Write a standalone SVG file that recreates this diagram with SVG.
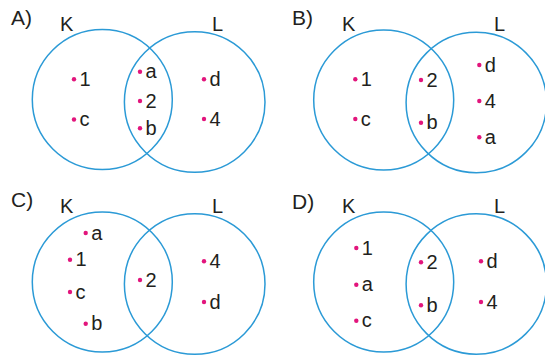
<svg xmlns="http://www.w3.org/2000/svg" width="545" height="356" viewBox="0 0 545 356">
<style>
.set{fill:none;stroke:#2b9ad6;stroke-width:1.5}
.dot{fill:#e2157c}
.t{font-family:"Liberation Sans",Arial,sans-serif;font-size:20px;fill:#231f20}
.lbl{font-family:"Liberation Sans",Arial,sans-serif;font-size:20px;fill:#231f20}
.opt{font-family:"Liberation Sans",Arial,sans-serif;font-size:21px;fill:#231f20}
</style>
<rect width="545" height="356" fill="#fff"/>
<g id="connectors"/>
<!-- Panel A -->
<g id="panelA">
  <text class="opt" x="11" y="25">A)</text>
  <g id="A-K"><circle class="set" cx="102.3" cy="99.5" r="70"/><text class="lbl" x="60" y="31">K</text></g>
  <g id="A-L"><circle class="set" cx="194.7" cy="102" r="70.3"/><text class="lbl" x="212" y="31">L</text></g>
  <g id="A-items">
    <circle class="dot" cx="74" cy="79.3" r="2.2"/><text class="t" x="79.5" y="86">1</text>
    <circle class="dot" cx="74" cy="119.5" r="2.2"/><text class="t" x="79.5" y="126">c</text>
    <circle class="dot" cx="140" cy="71.7" r="2.2"/><text class="t" x="145.5" y="78">a</text>
    <circle class="dot" cx="140" cy="101" r="2.2"/><text class="t" x="145.5" y="107.5">2</text>
    <circle class="dot" cx="140" cy="128.3" r="2.2"/><text class="t" x="145.5" y="135">b</text>
    <circle class="dot" cx="204" cy="79.3" r="2.2"/><text class="t" x="209.5" y="86">d</text>
    <circle class="dot" cx="204" cy="119" r="2.2"/><text class="t" x="209.5" y="125.5">4</text>
  </g>
</g>
<!-- Panel B -->
<g id="panelB">
  <text class="opt" x="292" y="25">B)</text>
  <g id="B-K"><circle class="set" cx="383.7" cy="100" r="70"/><text class="lbl" x="342" y="31">K</text></g>
  <g id="B-L"><circle class="set" cx="476.3" cy="102.5" r="70.2"/><text class="lbl" x="494" y="31">L</text></g>
  <g id="B-items">
    <circle class="dot" cx="355.3" cy="79.3" r="2.2"/><text class="t" x="360.8" y="86">1</text>
    <circle class="dot" cx="355.3" cy="119" r="2.2"/><text class="t" x="360.8" y="125.5">c</text>
    <circle class="dot" cx="421" cy="80" r="2.2"/><text class="t" x="426.5" y="86.5">2</text>
    <circle class="dot" cx="421" cy="122.7" r="2.2"/><text class="t" x="426.5" y="129.2">b</text>
    <circle class="dot" cx="479.3" cy="65" r="2.2"/><text class="t" x="484.8" y="71.5">d</text>
    <circle class="dot" cx="479.3" cy="101" r="2.2"/><text class="t" x="484.8" y="107.5">4</text>
    <circle class="dot" cx="479.3" cy="137.3" r="2.2"/><text class="t" x="484.8" y="143.8">a</text>
  </g>
</g>
<!-- Panel C -->
<g id="panelC">
  <text class="opt" x="11" y="207">C)</text>
  <g id="C-K"><circle class="set" cx="102.3" cy="282" r="70"/><text class="lbl" x="60" y="213">K</text></g>
  <g id="C-L"><circle class="set" cx="194.7" cy="284" r="70.3"/><text class="lbl" x="212" y="213">L</text></g>
  <g id="C-items">
    <circle class="dot" cx="85.7" cy="233" r="2.2"/><text class="t" x="91.2" y="239.5">a</text>
    <circle class="dot" cx="70" cy="259.7" r="2.2"/><text class="t" x="75.5" y="266.2">1</text>
    <circle class="dot" cx="70" cy="292" r="2.2"/><text class="t" x="75.5" y="298.5">c</text>
    <circle class="dot" cx="85.7" cy="323.7" r="2.2"/><text class="t" x="91.2" y="330.2">b</text>
    <circle class="dot" cx="140" cy="280" r="2.2"/><text class="t" x="145.5" y="286.5">2</text>
    <circle class="dot" cx="204" cy="261.3" r="2.2"/><text class="t" x="209.5" y="267.8">4</text>
    <circle class="dot" cx="204" cy="302" r="2.2"/><text class="t" x="209.5" y="308.5">d</text>
  </g>
</g>
<!-- Panel D -->
<g id="panelD">
  <text class="opt" x="292" y="208.5">D)</text>
  <g id="D-K"><circle class="set" cx="383.7" cy="282" r="70"/><text class="lbl" x="342" y="213">K</text></g>
  <g id="D-L"><circle class="set" cx="476.3" cy="284" r="70.2"/><text class="lbl" x="494" y="213">L</text></g>
  <g id="D-items">
    <circle class="dot" cx="356.3" cy="248" r="2.2"/><text class="t" x="361.8" y="254.5">1</text>
    <circle class="dot" cx="356.3" cy="284.7" r="2.2"/><text class="t" x="361.8" y="291.2">a</text>
    <circle class="dot" cx="356.3" cy="320.7" r="2.2"/><text class="t" x="361.8" y="327.2">c</text>
    <circle class="dot" cx="421" cy="262.3" r="2.2"/><text class="t" x="426.5" y="268.8">2</text>
    <circle class="dot" cx="421" cy="305.3" r="2.2"/><text class="t" x="426.5" y="311.8">b</text>
    <circle class="dot" cx="481" cy="261.3" r="2.2"/><text class="t" x="486.5" y="267.8">d</text>
    <circle class="dot" cx="481" cy="302" r="2.2"/><text class="t" x="486.5" y="308.5">4</text>
  </g>
</g>
</svg>
